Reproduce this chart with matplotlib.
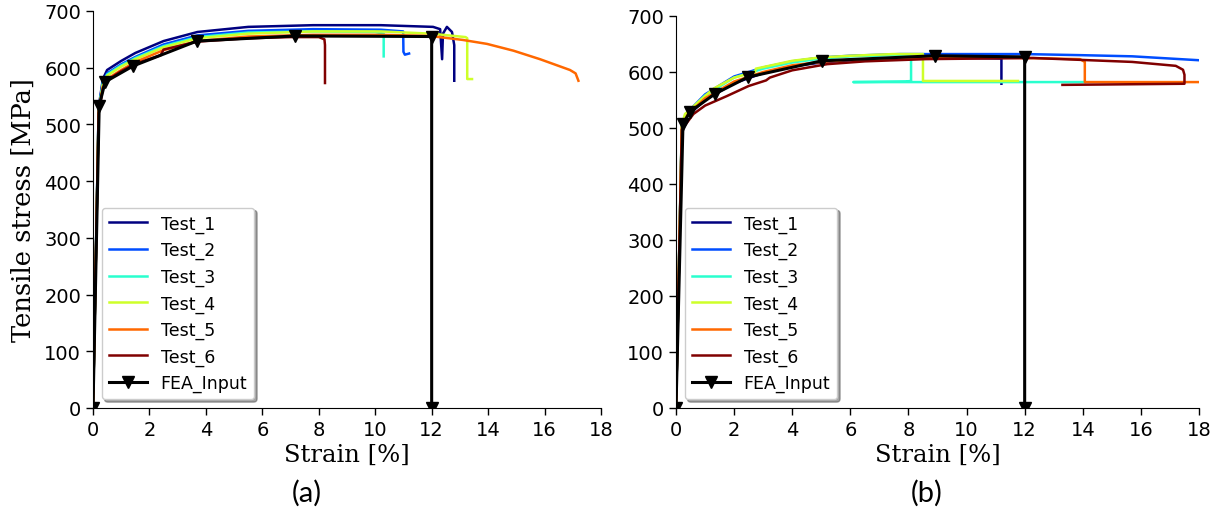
import numpy as np
import matplotlib
matplotlib.use("Agg")
import matplotlib.pyplot as plt

# ---------------- data: panel (a) ----------------
labels = ["Test_1", "Test_2", "Test_3", "Test_4", "Test_5", "Test_6"]

a1_e = [0, 0.2, 0.35, 0.5, 1.0, 1.5, 2.5, 3.7, 5.5, 7.8, 10.2, 12.05, 12.3, 12.37, 12.4, 12.54, 12.72, 12.8, 12.8]
a1_s = [0, 530, 580, 596, 612, 626, 647, 663, 672, 675, 675, 672, 668, 615, 660, 672, 663, 640, 577]
a2_e = [0, 0.2, 0.35, 0.5, 1.0, 1.5, 2.5, 3.7, 5.5, 7.8, 10.2, 10.99, 11.0, 11.05, 11.2]
a2_s = [0, 528, 575, 590, 606, 619, 641, 657, 665, 668, 667, 664, 628, 623, 625]
a3_e = [0, 0.2, 0.35, 0.5, 1.0, 1.5, 2.5, 3.7, 5.5, 7.8, 10.0, 10.3, 10.3]
a3_s = [0, 526, 573, 588, 604, 617, 638, 654, 662, 664, 663, 660, 620]
a4_e = [0, 0.2, 0.35, 0.5, 1.0, 1.5, 2.5, 3.7, 5.5, 7.8, 10.2, 12.0, 13.2, 13.26, 13.26, 13.43]
a4_s = [0, 524, 570, 586, 602, 615, 636, 652, 660, 664, 664, 660, 654, 652, 580, 580]
a5_e = [0, 0.2, 0.35, 0.5, 1.0, 1.5, 2.5, 3.7, 5.5, 7.8, 10.2, 11.94, 13.1, 13.96, 14.9, 15.84, 16.9, 17.1, 17.2]
a5_s = [0, 522, 566, 580, 596, 610, 631, 647, 655, 658, 658, 656, 649, 642, 630, 615, 596, 590, 577]
a6_e = [0, 0.2, 0.35, 0.5, 1.0, 1.5, 2.4, 2.5, 3.7, 5.5, 7.0, 8.0, 8.2, 8.22, 8.22]
a6_s = [0, 520, 564, 578, 594, 607, 622, 632, 646, 652, 654, 654, 650, 640, 573]
a_fea_e = [0, 0.22, 0.43, 1.42, 3.68, 7.16, 12.0, 12.0]
a_fea_s = [0, 533, 575, 603, 647, 656, 655, 0]

# ---------------- data: panel (b) ----------------
b1_e = [0, 0.2, 0.4, 1.0, 2.0, 3.0, 4.0, 5.0, 6.0, 8.0, 10.0, 11.2, 11.2]
b1_s = [0, 500, 522, 550, 580, 598, 610, 617, 621, 624, 625, 624, 579]
b2_e = [0, 0.2, 0.4, 1.0, 2.0, 3.0, 4.0, 5.0, 6.0, 7.7, 10.0, 12.0, 14.0, 15.7, 18.0]
b2_s = [0, 505, 528, 560, 592, 608, 619, 626, 629, 632, 632, 632, 630, 628, 621]
b3_e = [0, 0.2, 0.4, 1.0, 2.0, 3.0, 4.0, 5.0, 6.0, 7.5, 8.09, 8.09, 7.9, 6.1, 14.07]
b3_s = [0, 504, 527, 558, 590, 606, 617, 624, 628, 630, 628, 584, 583, 582, 582]
b4_e = [0, 0.2, 0.31, 1.28, 2.0, 2.72, 2.75, 4.0, 4.96, 6.0, 7.47, 8.5, 8.5, 11.77]
b4_s = [0, 506, 525, 570, 590, 600, 606, 620, 626, 629, 632, 632, 584, 584]
b5_e = [0, 0.2, 0.4, 1.0, 2.0, 3.0, 4.0, 5.0, 6.0, 8.0, 10.0, 12.0, 13.9, 14.07, 14.07, 18.0]
b5_s = [0, 502, 524, 553, 583, 600, 612, 618, 622, 625, 626, 625, 623, 618, 582, 582]
b6_e = [0, 0.2, 0.6, 1.0, 1.75, 2.5, 3.1, 3.23, 4.0, 5.2, 6.5, 8.6, 12.3, 15.7, 17.2, 17.45, 17.5, 17.5, 13.3]
b6_s = [0, 497, 525, 540, 557, 575, 585, 590, 603, 614, 619, 623, 625, 618, 611, 604, 595, 579, 577]
b_fea_e = [0, 0.24, 0.48, 1.34, 2.48, 5.02, 8.91, 12.0, 12.0]
b_fea_s = [0, 507, 529, 561, 591, 620, 629, 627, 0]

x_ticks = [0, 2, 4, 6, 8, 10, 12, 14, 16, 18]
y_ticks = [0, 100, 200, 300, 400, 500, 600, 700]

colors = plt.cm.jet(np.linspace(0, 1, 6))

fig = plt.figure(figsize=(12.29, 5.10), dpi=100)
ax_a = fig.add_axes([93 / 1229, 1 - 409 / 510, 508 / 1229, 397 / 510])
ax_b = fig.add_axes([676 / 1229, 1 - 409 / 510, 523 / 1229, 392 / 510])


def draw(ax, tests, fea, ylabel):
    for (e, s), c, lab in zip(tests, colors, labels):
        ax.plot(e, s, color=c, lw=1.8, label=lab)
    ax.plot(fea[0], fea[1], color="black", lw=2.2, marker="v", ms=8,
            label="FEA_Input")
    ax.set_xlim(0, 18)
    ax.set_ylim(0, 700)
    ax.set_xticks(x_ticks)
    ax.set_yticks(y_ticks)
    ax.tick_params(labelsize=14, width=1.0, length=5)
    for sp in ["top", "right"]:
        ax.spines[sp].set_visible(False)
    ax.set_xlabel("Strain [%]", family="DejaVu Serif", fontsize=17.5, labelpad=3)
    if ylabel:
        ax.set_ylabel(ylabel, family="DejaVu Serif", fontsize=18.5, labelpad=6)
    ax.legend(loc="lower left", fontsize=12.5, labelspacing=0.48, handlelength=2.2,
              fancybox=True, shadow=True, framealpha=1.0)


draw(ax_a, [(a1_e, a1_s), (a2_e, a2_s), (a3_e, a3_s), (a4_e, a4_s), (a5_e, a5_s), (a6_e, a6_s)],
     (a_fea_e, a_fea_s), "Tensile stress [MPa]")
draw(ax_b, [(b1_e, b1_s), (b2_e, b2_s), (b3_e, b3_s), (b4_e, b4_s), (b5_e, b5_s), (b6_e, b6_s)],
     (b_fea_e, b_fea_s), None)

fig.text(307 / 1229, 1 - 493 / 510, "(a)", family="Lato", fontsize=21, ha="center", va="center")
fig.text(927 / 1229, 1 - 493 / 510, "(b)", family="Lato", fontsize=21, ha="center", va="center")

fig.savefig("out.png", dpi=100)
